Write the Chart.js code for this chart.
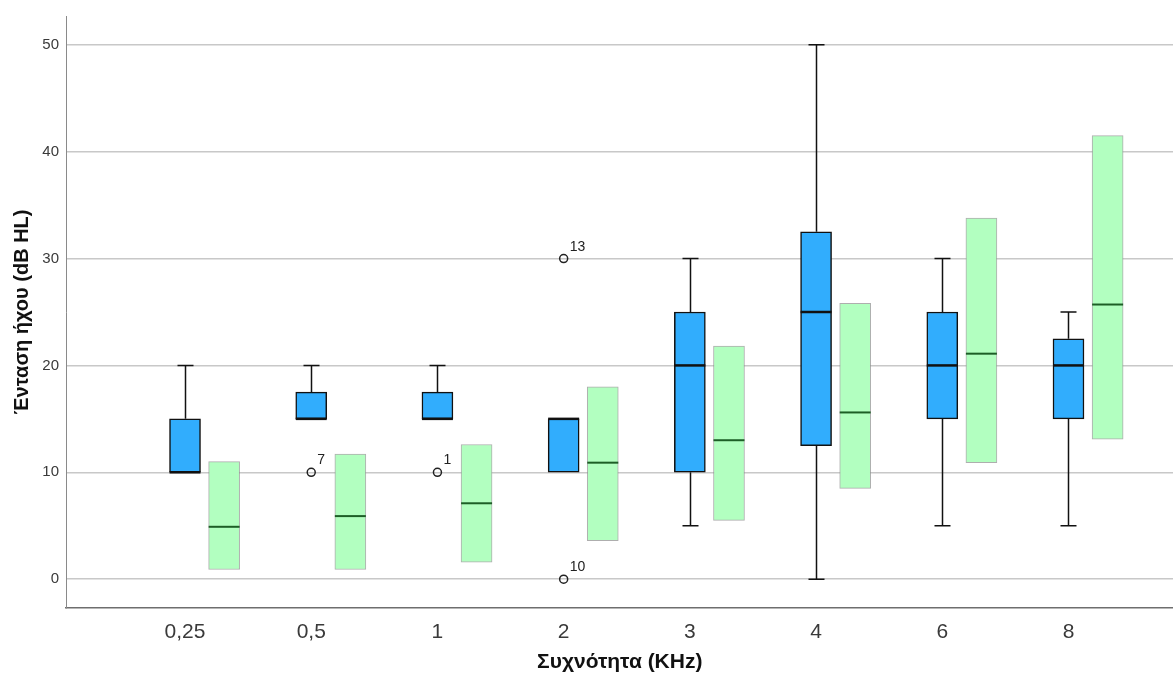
<!DOCTYPE html>
<html>
<head>
<meta charset="utf-8">
<script src="https://cdn.jsdelivr.net/npm/chart.js@4.4.0/dist/chart.umd.min.js"></script>
<style>
  body { margin: 0; background: #fff; overflow: hidden; }
  /* a few px wider than the window: chart.js keeps half of the last tick label as right padding */
  #wrap { width: 1179px; height: 675px; }
</style>
</head>
<body>
<div id="wrap"><canvas id="chart"></canvas></div>
<script>
// ---------------- data ----------------
const freqLabels = ['0,25', '0,5', '1', '2', '3', '4', '6', '8'];
const yTicks = [0, 10, 20, 30, 40, 50];

// blue boxplots
const boxMin    = [10, 15, 15, 10, 5, 0, 5, 5];
const boxQ1     = [10, 15, 15, 10, 10, 12.5, 15, 15];
const boxMedian = [10, 15, 15, 15, 20, 25, 20, 20];
const boxQ3     = [15, 17.5, 17.5, 15, 25, 32.5, 25, 22.5];
const boxMax    = [20, 20, 20, 15, 30, 50, 30, 25];

// outliers (category index, value, case number)
const outlierCat   = [1, 2, 3, 3];
const outlierValue = [10, 10, 30, 0];
const outlierCase  = ['7', '1', '13', '10'];

// green ranges
const greenLow  = [0.9, 0.9, 1.6, 3.6, 5.5, 8.5, 10.9, 13.1];
const greenMid  = [4.9, 5.9, 7.1, 10.9, 13.0, 15.6, 21.1, 25.7];
const greenHigh = [11.0, 11.7, 12.6, 18.0, 21.8, 25.8, 33.8, 41.5];

// ---------------- chart ----------------
const greenShift = 0.31;   // green bar sits right of the blue box
const font = "'Liberation Sans', Arial, sans-serif";

// whiskers, medians and outlier numbers
const boxExtras = {
  id: 'boxExtras',
  afterDatasetsDraw(chart) {
    const ctx = chart.ctx;
    const y = chart.scales.y;
    const blue = chart.getDatasetMeta(0).data;
    const green = chart.getDatasetMeta(1).data;
    const outs = chart.getDatasetMeta(2).data;
    ctx.save();
    ctx.lineCap = 'butt';

    blue.forEach((bar, i) => {
      const x = Math.round(bar.x) + 0.5;
      const half = bar.width / 2;
      ctx.strokeStyle = '#111';
      ctx.lineWidth = 1.5;
      ctx.beginPath();
      if (boxMax[i] > boxQ3[i]) {
        ctx.moveTo(x, y.getPixelForValue(boxQ3[i]));
        ctx.lineTo(x, y.getPixelForValue(boxMax[i]));
        ctx.moveTo(x - 8, y.getPixelForValue(boxMax[i]));
        ctx.lineTo(x + 8, y.getPixelForValue(boxMax[i]));
      }
      if (boxMin[i] < boxQ1[i]) {
        ctx.moveTo(x, y.getPixelForValue(boxQ1[i]));
        ctx.lineTo(x, y.getPixelForValue(boxMin[i]));
        ctx.moveTo(x - 8, y.getPixelForValue(boxMin[i]));
        ctx.lineTo(x + 8, y.getPixelForValue(boxMin[i]));
      }
      ctx.stroke();

      ctx.lineWidth = 2.5;
      ctx.beginPath();
      ctx.moveTo(bar.x - half, y.getPixelForValue(boxMedian[i]));
      ctx.lineTo(bar.x + half, y.getPixelForValue(boxMedian[i]));
      ctx.stroke();
    });

    green.forEach((bar, i) => {
      const half = bar.width / 2;
      ctx.strokeStyle = '#1d5e26';
      ctx.lineWidth = 2;
      ctx.beginPath();
      ctx.moveTo(bar.x - half, y.getPixelForValue(greenMid[i]));
      ctx.lineTo(bar.x + half, y.getPixelForValue(greenMid[i]));
      ctx.stroke();
    });

    ctx.fillStyle = '#222';
    ctx.font = '14px ' + font;
    ctx.textAlign = 'left';
    ctx.textBaseline = 'alphabetic';
    outs.forEach((pt, i) => {
      ctx.fillText(outlierCase[i], pt.x + 6, pt.y - 8);
    });
    ctx.restore();
  }
};

const ctx = document.getElementById('chart');

new Chart(ctx, {
  type: 'bar',
  data: {
    datasets: [
      {
        data: freqLabels.map((_, i) => ({ x: i, y: [boxQ1[i], boxQ3[i]] })),
        backgroundColor: '#31adfd',
        borderColor: '#111',
        borderWidth: 1.5,
        borderSkipped: false,
        grouped: false,
        barPercentage: 1,
        categoryPercentage: 1,
        maxBarThickness: 31
      },
      {
        data: freqLabels.map((_, i) => ({ x: i + greenShift, y: [greenLow[i], greenHigh[i]] })),
        backgroundColor: '#b2ffc0',
        borderColor: 'rgba(140,140,140,0.7)',
        borderWidth: 1,
        borderSkipped: false,
        grouped: false,
        barPercentage: 1,
        categoryPercentage: 1,
        maxBarThickness: 31
      },
      {
        type: 'scatter',
        data: outlierCat.map((c, i) => ({ x: c, y: outlierValue[i] })),
        pointStyle: 'circle',
        pointRadius: 4,
        borderColor: '#222',
        borderWidth: 1.5,
        backgroundColor: 'rgba(255,255,255,0)'
      }
    ]
  },
  options: {
    responsive: true,
    maintainAspectRatio: false,
    animation: false,
    layout: { padding: { top: 15, right: 0, left: 0, bottom: 0 } },
    plugins: {
      legend: { display: false },
      tooltip: { enabled: false }
    },
    scales: {
      x: {
        type: 'linear',
        offset: false,
        min: -0.943,
        max: 7.832,
        afterBuildTicks: (scale) => {
          scale.ticks = freqLabels.map((_, i) => ({ value: i }));
        },
        afterFit: (scale) => { scale.height = 67; },
        grid: { display: false },
        border: { color: '#6e6e6e', width: 1.5 },
        ticks: {
          autoSkip: false,
          maxRotation: 0,
          padding: 4,
          color: '#3a3a3a',
          font: { family: font, size: 21 },
          callback: (v) => freqLabels[v]
        },
        title: {
          display: true,
          text: 'Συχνότητα (KHz)',
          color: '#111',
          font: { family: font, size: 21, weight: 'bold' },
          padding: { top: 0, bottom: 0 }
        }
      },
      y: {
        min: -2.7,
        max: 52.7,
        afterBuildTicks: (scale) => {
          scale.ticks = yTicks.map(v => ({ value: v }));
        },
        afterFit: (scale) => { scale.width = 66; },
        grid: { color: '#c8c8c8', lineWidth: 1.5, drawTicks: false },
        border: { color: '#8a8a8a', width: 1 },
        ticks: {
          padding: 7,
          color: '#3a3a3a',
          font: { family: font, size: 15 }
        },
        title: {
          display: true,
          text: 'Ένταση ήχου (dB HL)',
          color: '#111',
          font: { family: font, size: 20, weight: 'bold' },
          padding: { top: 10, bottom: 0 }
        }
      }
    }
  },
  plugins: [boxExtras]
});
</script>
</body>
</html>
